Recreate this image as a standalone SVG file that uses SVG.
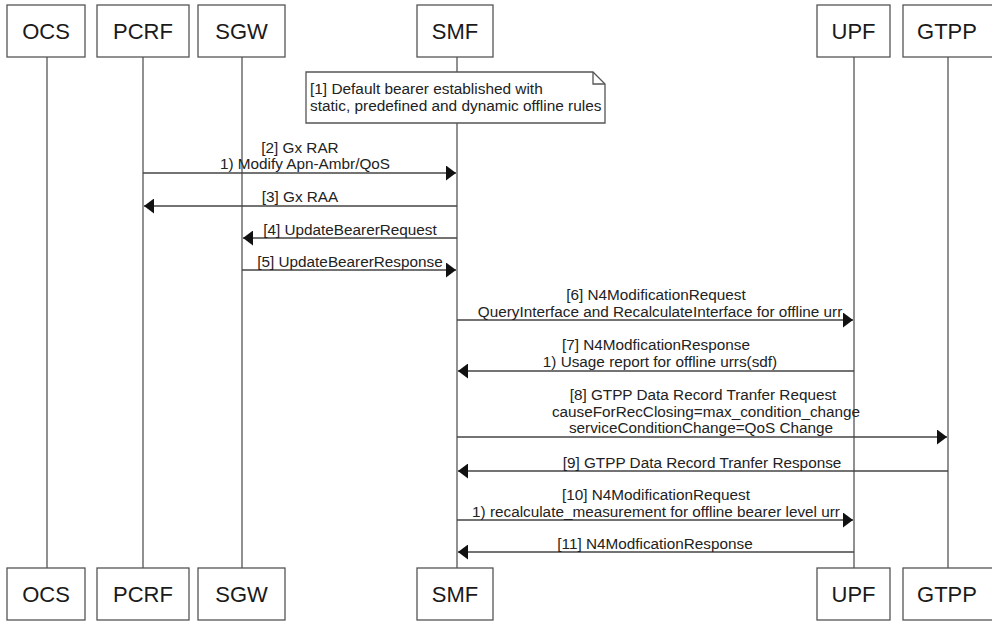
<svg xmlns="http://www.w3.org/2000/svg" width="992" height="622" viewBox="0 0 992 622">
<style>
.box{fill:#fff;stroke:#555;stroke-width:1.3}
.life{stroke:#555;stroke-width:1.3}
.nl{font-family:"Liberation Sans",Arial,sans-serif;font-size:22px;fill:#1a1a1a;text-anchor:middle}
.ml{font-family:"Liberation Sans",Arial,sans-serif;font-size:15.3px;fill:#222;text-anchor:middle}
.nt{font-family:"Liberation Sans",Arial,sans-serif;font-size:15.4px;fill:#222}
.msg{stroke:#444;stroke-width:1.3;fill:none;marker-end:url(#ah)}
</style>
<defs>
<marker id="ah" markerWidth="10" markerHeight="15" refX="10" refY="7.5" orient="auto" markerUnits="userSpaceOnUse">
<path d="M0,0 L10,7.5 L0,15 Z" fill="#111"/>
</marker>
</defs>
<rect width="992" height="622" fill="#fff"/>
<g id="lifelines">
<line class="life" x1="47" y1="57" x2="47" y2="568"/>
<line class="life" x1="143" y1="57" x2="143" y2="568"/>
<line class="life" x1="242" y1="57" x2="242" y2="568"/>
<line class="life" x1="457" y1="57" x2="457" y2="568"/>
<line class="life" x1="854" y1="57" x2="854" y2="568"/>
<line class="life" x1="948" y1="57" x2="948" y2="568"/>
</g>
<g id="OCS">
<rect class="box" x="7" y="5" width="78" height="52"/><text class="nl" x="46" y="39">OCS</text>
<rect class="box" x="7" y="568" width="78" height="52"/><text class="nl" x="46" y="602">OCS</text>
</g>
<g id="PCRF">
<rect class="box" x="97" y="5" width="92" height="52"/><text class="nl" x="143" y="39">PCRF</text>
<rect class="box" x="97" y="568" width="92" height="52"/><text class="nl" x="143" y="602">PCRF</text>
</g>
<g id="SGW">
<rect class="box" x="198" y="5" width="87" height="52"/><text class="nl" x="241.5" y="39">SGW</text>
<rect class="box" x="198" y="568" width="87" height="52"/><text class="nl" x="241.5" y="602">SGW</text>
</g>
<g id="SMF">
<rect class="box" x="417" y="5" width="76" height="52"/><text class="nl" x="455" y="39">SMF</text>
<rect class="box" x="417" y="568" width="76" height="52"/><text class="nl" x="455" y="602">SMF</text>
</g>
<g id="UPF">
<rect class="box" x="817" y="5" width="73" height="52"/><text class="nl" x="853.5" y="39">UPF</text>
<rect class="box" x="817" y="568" width="73" height="52"/><text class="nl" x="853.5" y="602">UPF</text>
</g>
<g id="GTPP">
<rect class="box" x="903" y="5" width="92" height="52"/><text class="nl" x="947" y="39">GTPP</text>
<rect class="box" x="903" y="568" width="92" height="52"/><text class="nl" x="947" y="602">GTPP</text>
</g>
<g id="note1">
<path d="M306,72 L593,72 L605,84 L605,123 L306,123 Z" fill="#fff" stroke="#555" stroke-width="1.3"/>
<path d="M593,72 L593,84 L605,84" fill="none" stroke="#555" stroke-width="1.3"/>
<text class="nt" x="310" y="94">[1] Default bearer established with</text>
<text class="nt" x="310" y="111">static, predefined and dynamic offline rules</text>
</g>
<g id="connectors">
<line class="msg" x1="143" y1="173" x2="456" y2="173"/>
<text class="ml" x="300" y="153">[2] Gx RAR</text>
<text class="ml" x="305" y="169">1) Modify Apn-Ambr/QoS</text>
<line class="msg" x1="457" y1="206" x2="144" y2="206"/>
<text class="ml" x="300" y="202">[3] Gx RAA</text>
<line class="msg" x1="457" y1="238" x2="243" y2="238"/>
<text class="ml" x="350" y="235">[4] UpdateBearerRequest</text>
<line class="msg" x1="242" y1="270" x2="456" y2="270"/>
<text class="ml" x="350" y="267">[5] UpdateBearerResponse</text>
<line class="msg" x1="457" y1="320" x2="853" y2="320"/>
<text class="ml" x="656" y="300">[6] N4ModificationRequest</text>
<text class="ml" x="660" y="317">QueryInterface and RecalculateInterface for offline urr</text>
<line class="msg" x1="854" y1="371" x2="458" y2="371"/>
<text class="ml" x="656" y="350">[7] N4ModficationResponse</text>
<text class="ml" x="660" y="367">1) Usage report for offline urrs(sdf)</text>
<line class="msg" x1="457" y1="437" x2="947" y2="437"/>
<text class="ml" x="703" y="400">[8] GTPP Data Record Tranfer Request</text>
<text class="ml" x="706" y="417">causeForRecClosing=max_condition_change</text>
<text class="ml" x="701" y="433">serviceConditionChange=QoS Change</text>
<line class="msg" x1="948" y1="471" x2="458" y2="471"/>
<text class="ml" x="702" y="468">[9] GTPP Data Record Tranfer Response</text>
<line class="msg" x1="457" y1="520" x2="853" y2="520"/>
<text class="ml" x="656" y="500">[10] N4ModificationRequest</text>
<text class="ml" x="656" y="517">1) recalculate_measurement for offline bearer level urr</text>
<line class="msg" x1="854" y1="552" x2="458" y2="552"/>
<text class="ml" x="655" y="549">[11] N4ModficationResponse</text>
</g>
</svg>
